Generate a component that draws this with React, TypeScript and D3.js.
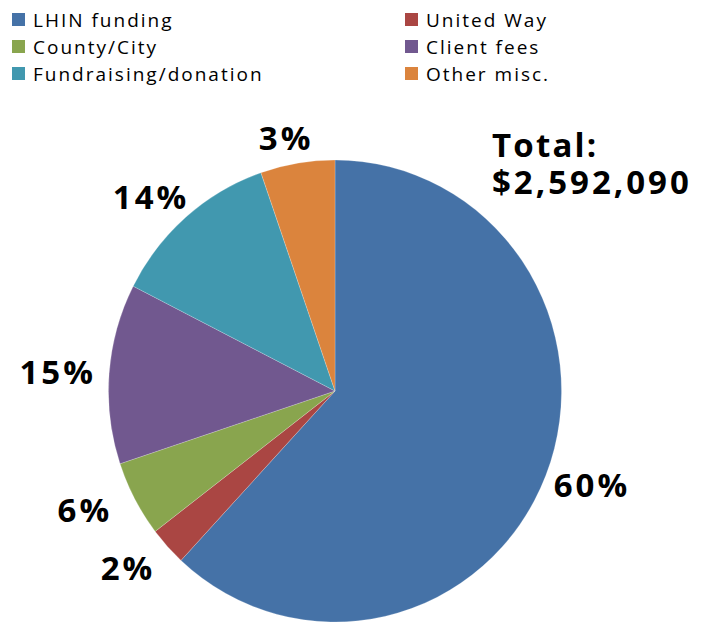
import React from "react";
import * as d3 from "d3";

const categories = ["LHIN funding", "United Way", "County/City", "Client fees", "Fundraising/donation", "Other misc."];
const shares = [61.9, 2.7, 5.3, 12.6, 12.2, 5.3];
const shareLabels = ["60%", "2%", "6%", "15%", "14%", "3%"];
const colors = ["#4572A7", "#AA4643", "#89A54E", "#71588F", "#4198AF", "#DB843D"];
const totalLines = ["Total:", "$2,592,090"];

const W = 704;
const H = 622;

export default function App() {
  const cx = 335;
  const cy = 391;
  const rx = 226.5;
  const ry = 231;
  const pie = d3.pie<number>().sort(null).value((d) => d);
  const arcs = pie(shares);
  const arcGen = d3.arc<d3.PieArcDatum<number>>().innerRadius(0).outerRadius(rx);
  const labelFont = 33;
  // small layout nudges for label placement (px)
  const nudgeX = [-1, -11, -16, -1, -2, -5];
  const nudgeY = [0, 4, -1, 0, 0, 0];

  return (
    <svg width={W} height={H} style={{ position: "absolute", left: 0, top: 0 }}>
      <g transform={`translate(${cx},${cy}) scale(1,${ry / rx})`}>
        {arcs.map((a, i) => (
          <path key={i} d={arcGen(a) || ""} fill={colors[i]} stroke="#ffffff" strokeOpacity={0.35} strokeWidth={0.6} />
        ))}
      </g>
      {arcs.map((a, i) => {
        const mid = (a.startAngle + a.endAngle) / 2;
        const dx = Math.sin(mid);
        const dy = -Math.cos(mid);
        const hw = shareLabels[i].length * labelFont * 0.37;
        const hh = 12;
        const px = cx + dx * (rx + 14) + dx * hw + nudgeX[i];
        const py = cy + dy * (ry + 14) + dy * hh + nudgeY[i];
        return (
          <text
            key={i}
            x={px}
            y={py + 12}
            textAnchor="middle"
            fontFamily="'Open Sans', sans-serif"
            fontWeight={700}
            fontSize={labelFont}
            letterSpacing={3}
            fill="#000"
          >
            {shareLabels[i]}
          </text>
        );
      })}
      {totalLines.map((t, i) => (
        <text
          key={t}
          x={492}
          y={157 + i * 37.3}
          fontFamily="'Open Sans', sans-serif"
          fontWeight={700}
          fontSize={33}
          letterSpacing={i === 0 ? 2.2 : 3}
          fill="#000"
        >
          {t}
        </text>
      ))}
      {categories.map((name, idx) => {
        const col = idx % 2;
        const row = Math.floor(idx / 2);
        const x = col === 0 ? 12 : 405;
        const y = 27 + row * 27;
        return (
          <g key={idx}>
            <rect x={x} y={y - 14} width={13} height={13} fill={colors[idx]} />
            <text
              x={x + 21}
              y={y}
              fontFamily="'Open Sans', sans-serif"
              fontSize={19}
              letterSpacing={2}
              fill="#000"
            >
              {name}
            </text>
          </g>
        );
      })}
    </svg>
  );
}
